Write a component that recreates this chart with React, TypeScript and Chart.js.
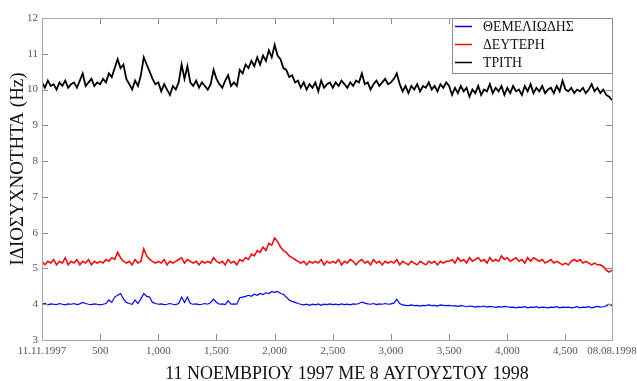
import React, { useEffect, useRef } from "react";
import { Chart, registerables } from "chart.js";

Chart.register(...registerables);

// ---- data ----
const SERIES_LABELS = ["ΘΕΜΕΛΙΩΔΗΣ", "ΔΕΥΤΕΡΗ", "ΤΡΙΤΗ"];
const SERIES_COLORS = ["#0000ff", "#ff0000", "#000000"];
const SERIES_WIDTHS = [1.2, 1.5, 1.8];
const SAMPLE_STEP = 25; // sample index spacing between listed values
const X_MIN = 0;
const X_MAX = 4900;
const X_TICKS = [0, 500, 1000, 1500, 2000, 2500, 3000, 3500, 4000, 4500, 4900];
const X_TICK_LABELS = ["11.11.1997", "500", "1,000", "1,500", "2,000", "2,500", "3,000", "3,500", "4,000", "4,500", "08.08.1998"];
const Y_MIN = 3;
const Y_MAX = 12;
const Y_TICKS = [3, 4, 5, 6, 7, 8, 9, 10, 11, 12];
const X_TITLE = "11 ΝΟΕΜΒΡΙΟΥ 1997 ΜΕ 8 ΑΥΓΟΥΣΤΟΥ 1998";
const Y_TITLE = "ΙΔΙΟΣΥΧΝΟΤΗΤΑ (Hz)";

const fundamental = [
  4.0, 4.02, 3.98, 4.01, 4.0, 3.99, 4.02, 4.0, 3.98, 4.01, 4.0, 4.02, 3.99, 4.01, 4.05, 4.02, 4.0, 3.99, 4.01, 4.0,
  3.98, 4.0, 4.02, 4.12, 4.05, 4.2, 4.25, 4.3, 4.15, 4.05, 4.02, 4.0, 4.12, 4.02, 4.15, 4.3, 4.22, 4.2, 4.05, 4.02,
  4.0, 4.01, 3.99, 4.0, 4.02, 4.0, 3.99, 4.02, 4.2, 4.05, 4.2, 4.02, 4.0, 4.01, 3.99, 4.0, 4.02, 4.0, 4.05, 4.14,
  4.05, 4.0, 4.01, 3.99, 4.1, 4.0, 4.01, 4.0, 4.18, 4.2, 4.22, 4.25, 4.22, 4.28, 4.25, 4.3, 4.27, 4.32, 4.3, 4.35,
  4.33, 4.36, 4.3, 4.28, 4.2, 4.12, 4.08, 4.05, 4.02, 4.0, 3.98, 4.0, 3.97, 4.0, 3.98, 4.01, 3.97, 4.0, 3.99, 4.01,
  3.99, 4.0, 3.98, 4.01, 3.99, 4.0, 3.98, 4.01, 4.0, 4.02, 4.06, 4.03, 4.01, 4.0, 4.02, 3.99, 4.01, 4.0, 4.02, 4.0,
  4.01, 4.03, 4.14, 4.02, 3.98, 3.97, 3.96, 3.98, 3.96, 3.97, 3.95, 3.97, 3.96, 3.98, 3.96, 3.97, 3.95, 3.98, 3.97, 3.96,
  3.97, 3.95, 3.96, 3.94, 3.96, 3.95, 3.93, 3.95, 3.94, 3.92, 3.94, 3.93, 3.95, 3.92, 3.94, 3.93, 3.91, 3.93, 3.92, 3.94,
  3.93, 3.91, 3.92, 3.9, 3.92, 3.91, 3.93, 3.9, 3.92, 3.91, 3.93, 3.9, 3.92, 3.91, 3.9, 3.92, 3.91, 3.93, 3.9, 3.92,
  3.91, 3.92, 3.9, 3.91, 3.93, 3.9, 3.92, 3.91, 3.93, 3.9, 3.92, 3.94, 3.92, 3.93, 3.95, 4.0, 3.96,
];

const second = [
  5.2, 5.1, 5.2, 5.15, 5.25, 5.1, 5.2, 5.15, 5.3, 5.1, 5.2, 5.15, 5.25, 5.1, 5.2, 5.15, 5.25, 5.1, 5.2, 5.15,
  5.2, 5.15, 5.25, 5.2, 5.3, 5.25, 5.45, 5.3, 5.2, 5.15, 5.2, 5.1, 5.25, 5.15, 5.2, 5.55, 5.35, 5.25, 5.2, 5.15,
  5.2, 5.15, 5.25, 5.1, 5.2, 5.15, 5.2, 5.25, 5.3, 5.15, 5.25, 5.2, 5.15, 5.2, 5.1, 5.2, 5.15, 5.2, 5.15, 5.3,
  5.2, 5.15, 5.2, 5.1, 5.25, 5.15, 5.2, 5.1, 5.25, 5.2, 5.3, 5.25, 5.4, 5.35, 5.5, 5.45, 5.6, 5.5, 5.7, 5.65,
  5.85, 5.75, 5.6, 5.5, 5.45, 5.35, 5.3, 5.25, 5.2, 5.15, 5.2, 5.1, 5.2, 5.15, 5.2, 5.15, 5.25, 5.1, 5.2, 5.15,
  5.2, 5.15, 5.25, 5.1, 5.2, 5.15, 5.25, 5.2, 5.1, 5.2, 5.25, 5.15, 5.2, 5.1, 5.25, 5.15, 5.2, 5.1, 5.2, 5.15,
  5.2, 5.15, 5.25, 5.1, 5.2, 5.15, 5.1, 5.2, 5.15, 5.1, 5.2, 5.15, 5.1, 5.2, 5.15, 5.2, 5.1, 5.2, 5.15, 5.2,
  5.2, 5.25, 5.15, 5.3, 5.2, 5.25, 5.15, 5.3, 5.2, 5.25, 5.3, 5.2, 5.25, 5.15, 5.3, 5.2, 5.25, 5.2, 5.35, 5.25,
  5.3, 5.2, 5.25, 5.3, 5.2, 5.25, 5.15, 5.3, 5.2, 5.3, 5.25, 5.2, 5.25, 5.15, 5.2, 5.25, 5.15, 5.2, 5.15, 5.1,
  5.15, 5.1, 5.2, 5.25, 5.2, 5.25, 5.15, 5.2, 5.15, 5.1, 5.15, 5.1, 5.1, 5.05, 4.95, 4.9, 4.95,
];

const third = [
  10.2, 10.05, 10.25, 10.1, 10.15, 10.0, 10.2, 10.1, 10.25, 10.05, 10.15, 10.2, 10.05, 10.25, 10.45, 10.1, 10.2, 10.3, 10.1, 10.2,
  10.15, 10.3, 10.2, 10.45, 10.35, 10.6, 10.85, 10.6, 10.7, 10.3, 10.15, 10.0, 10.25, 10.1, 10.4, 10.9, 10.7, 10.5, 10.3, 10.15,
  10.2, 9.95, 10.15, 10.0, 9.85, 10.1, 10.0, 10.2, 10.7, 10.3, 10.65, 10.2, 10.1, 10.25, 10.05, 10.2, 10.1, 10.0, 10.15, 10.55,
  10.3, 10.15, 10.05, 10.25, 10.4, 10.1, 10.2, 10.1, 10.55, 10.45, 10.7, 10.6, 10.8, 10.65, 10.9, 10.7, 10.95, 10.8, 11.1, 10.9,
  11.25, 10.95, 10.85, 10.6, 10.55, 10.35, 10.4, 10.2, 10.25, 10.05, 10.2, 10.0, 10.15, 10.05, 10.2, 9.95, 10.25, 10.05, 10.15, 10.2,
  10.05, 10.2, 10.1, 10.25, 10.15, 10.05, 10.2, 10.1, 10.25, 10.2, 10.45, 10.15, 10.2, 10.0, 10.15, 10.25, 10.1, 10.2, 10.3, 10.15,
  10.2, 10.3, 10.45, 10.15, 9.95, 10.1, 9.9, 10.1, 10.0, 10.15, 9.95, 10.1, 10.05, 10.2, 10.0, 10.1, 9.95, 10.15, 10.05, 10.2,
  10.1, 9.85, 10.05, 9.9, 10.1, 9.95, 10.05, 9.8, 10.0, 9.9, 10.1, 9.85, 10.0, 9.95, 10.15, 9.9, 10.05, 9.95, 10.1, 9.85,
  10.05, 9.9, 10.1, 9.95, 10.0, 9.85, 10.1, 9.95, 10.15, 9.9, 10.05, 9.95, 10.1, 9.9, 10.0, 10.05, 9.9, 10.1, 9.95, 10.25,
  10.0, 9.95, 10.05, 9.9, 10.0, 9.95, 10.05, 9.9, 10.0, 10.15, 9.95, 10.05, 9.9, 10.0, 9.85, 9.8, 9.7,
];

const SERIES_VALUES = [fundamental, second, third];

const SERIF = "'Liberation Serif', 'Times New Roman', serif";

const framePlugin = {
  id: "frameAndLegend",
  afterDatasetsDraw(chart: any) {
    const { ctx, chartArea } = chart;
    const { left, right, top, bottom } = chartArea;
    const xs = chart.scales.x;
    const ys = chart.scales.y;
    ctx.save();
    // tick marks pointing inward
    ctx.strokeStyle = "#8c8c8c";
    ctx.lineWidth = 1;
    ctx.beginPath();
    X_TICKS.forEach((v) => {
      if (v === X_MIN || v === X_MAX) return;
      const px = Math.round(xs.getPixelForValue(v)) + 0.5;
      ctx.moveTo(px, bottom);
      ctx.lineTo(px, bottom - 6);
      ctx.moveTo(px, top);
      ctx.lineTo(px, top + 6);
    });
    Y_TICKS.forEach((v) => {
      if (v === Y_MIN || v === Y_MAX) return;
      const py = Math.round(ys.getPixelForValue(v)) + 0.5;
      ctx.moveTo(left, py);
      ctx.lineTo(left + 6, py);
      ctx.moveTo(right, py);
      ctx.lineTo(right - 6, py);
    });
    ctx.stroke();
    // frame
    ctx.strokeStyle = "#a6a6a6";
    ctx.strokeRect(Math.round(left) + 0.5, Math.round(top) + 0.5, Math.round(right - left), Math.round(bottom - top));

    // legend box
    const lx = 452, ly = Math.round(top) + 0.5, lw = Math.round(right) - 452, lh = 55;
    ctx.fillStyle = "#ffffff";
    ctx.fillRect(lx, ly, lw, lh);
    ctx.strokeStyle = "#8c8c8c";
    ctx.strokeRect(lx + 0.5, ly, lw, lh);
    ctx.font = `13.8px ${SERIF}`;
    ctx.textBaseline = "middle";
    ctx.textAlign = "left";
    const rowY = [26.5, 44.5, 62.5];
    SERIES_LABELS.forEach((label, i) => {
      ctx.strokeStyle = SERIES_COLORS[i];
      ctx.lineWidth = 1.5;
      ctx.beginPath();
      ctx.moveTo(455, rowY[i]);
      ctx.lineTo(472, rowY[i]);
      ctx.stroke();
      ctx.fillStyle = "#111111";
      ctx.fillText(label, 483, rowY[i] + 1);
    });

    // axis titles
    ctx.fillStyle = "#111111";
    ctx.font = `18px ${SERIF}`;
    ctx.textAlign = "center";
    ctx.textBaseline = "alphabetic";
    ctx.fillText(X_TITLE, 347, 379);
    ctx.save();
    ctx.font = `19px ${SERIF}`;
    ctx.translate(23, 169);
    ctx.rotate(-Math.PI / 2);
    ctx.fillText(Y_TITLE, 0, 0);
    ctx.restore();
    ctx.restore();
  },
};

export default function App() {
  const ref = useRef<HTMLCanvasElement | null>(null);
  useEffect(() => {
    document.body.style.margin = "0";
    const canvas = ref.current;
    if (!canvas) return;
    const chart = new Chart(canvas, {
      type: "line",
      data: {
        datasets: SERIES_LABELS.map((label, i) => ({
          label,
          data: SERIES_VALUES[i].map((v, k) => ({ x: k * SAMPLE_STEP, y: v })),
          borderColor: SERIES_COLORS[i],
          backgroundColor: SERIES_COLORS[i],
          borderWidth: SERIES_WIDTHS[i],
          pointRadius: 0,
          tension: 0,
          fill: false,
        })),
      },
      options: {
        animation: false,
        responsive: false,
        layout: { padding: { top: 18, right: 25, left: 0, bottom: 0 } },
        plugins: { legend: { display: false }, tooltip: { enabled: false } },
        scales: {
          x: {
            type: "linear",
            min: X_MIN,
            max: X_MAX,
            afterBuildTicks: (s: any) => {
              s.ticks = X_TICKS.map((v) => ({ value: v }));
            },
            afterFit: (s: any) => {
              s.height = 41;
              s.paddingLeft = 0;
              s.paddingRight = 0;
            },
            ticks: {
              autoSkip: false,
              maxRotation: 0,
              minRotation: 0,
              padding: 5,
              color: "#555555",
              font: { family: SERIF, size: 11 },
              callback: (_v: any, i: number) => X_TICK_LABELS[i],
            },
            grid: { display: false, drawTicks: false, tickLength: 0 },
            border: { display: false },
          },
          y: {
            type: "linear",
            min: Y_MIN,
            max: Y_MAX,
            afterBuildTicks: (s: any) => {
              s.ticks = Y_TICKS.map((v) => ({ value: v }));
            },
            afterFit: (s: any) => {
              s.width = 42;
              s.paddingTop = 0;
              s.paddingBottom = 0;
            },
            ticks: {
              padding: 4,
              color: "#555555",
              font: { family: SERIF, size: 11 },
              callback: (v: any) => String(v),
            },
            grid: { display: false, drawTicks: false, tickLength: 0 },
            border: { display: false },
          },
        },
      },
      plugins: [framePlugin],
    });
    return () => chart.destroy();
  }, []);
  return <canvas ref={ref} width={637} height={381} style={{ display: "block" }} />;
}
